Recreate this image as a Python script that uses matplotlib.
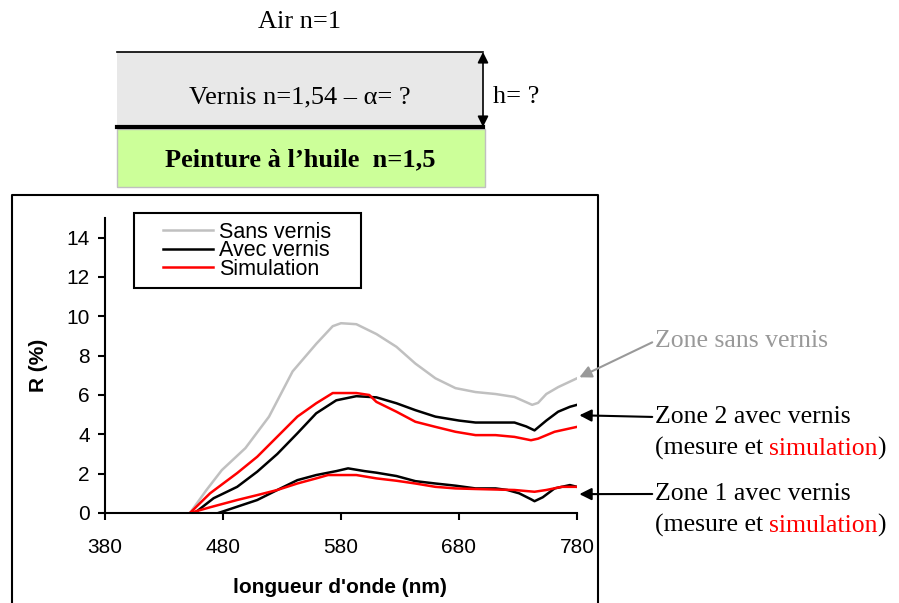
import numpy as np
import matplotlib.pyplot as plt
from matplotlib.patches import Rectangle

# reflectance spectra (wavelength in nm, R in %)
wl_sans = [452, 466, 479, 499, 519, 539, 559, 573, 580, 593, 610, 627, 643, 660,
           677, 694, 711, 727, 742, 747, 754, 764, 780]
r_sans = [0.0, 1.17, 2.18, 3.3, 4.9, 7.2, 8.6, 9.5, 9.65, 9.6, 9.1, 8.45, 7.6, 6.85,
          6.35, 6.15, 6.05, 5.9, 5.5, 5.6, 6.05, 6.4, 6.85]

wl_z2_mes = [456, 472, 492, 509, 526, 543, 559, 576, 593, 610, 627, 643, 660, 680,
             694, 727, 737, 744, 754, 764, 774, 780]
r_z2_mes = [0.0, 0.75, 1.33, 2.1, 3.0, 4.05, 5.07, 5.73, 5.94, 5.88, 5.58, 5.23, 4.9, 4.7,
            4.6, 4.6, 4.4, 4.2, 4.7, 5.15, 5.4, 5.5]

wl_z2_sim = [452, 469, 492, 509, 526, 543, 559, 573, 593, 604, 610, 627, 643, 660,
             677, 694, 711, 727, 741, 747, 761, 780]
r_z2_sim = [0.0, 1.0, 2.03, 2.86, 3.88, 4.9, 5.58, 6.1, 6.1, 6.0, 5.65, 5.15, 4.64, 4.38,
            4.13, 3.96, 3.96, 3.87, 3.7, 3.78, 4.13, 4.38]

wl_z1_mes = [476, 492, 509, 526, 543, 559, 576, 586, 600, 610, 627, 643, 660, 677,
             694, 711, 721, 731, 741, 744, 751, 761, 774, 780]
r_z1_mes = [0.0, 0.32, 0.66, 1.17, 1.67, 1.93, 2.13, 2.27, 2.13, 2.05, 1.88, 1.62, 1.5, 1.39,
            1.25, 1.25, 1.17, 1.0, 0.7, 0.6, 0.8, 1.25, 1.42, 1.33]

wl_z1_sim = [452, 469, 492, 509, 526, 543, 559, 569, 593, 610, 627, 643, 660, 677,
             694, 727, 744, 754, 767, 780]
r_z1_sim = [0.0, 0.29, 0.66, 0.91, 1.17, 1.5, 1.76, 1.93, 1.93, 1.76, 1.64, 1.5, 1.33, 1.25,
            1.22, 1.17, 1.08, 1.17, 1.33, 1.33]

x_ticks = [380, 480, 580, 680, 780]
y_ticks = [0, 2, 4, 6, 8, 10, 12, 14]

W, H = 899, 603
fig = plt.figure(figsize=(W / 100, H / 100), dpi=100)

# overlay in pixel coordinates for the sketch and the frame
ov = fig.add_axes([0, 0, 1, 1])
ov.set_xlim(0, W)
ov.set_ylim(H, 0)
ov.axis('off')

serif = 'Liberation Serif'
sans = 'Liberation Sans'
fs_sketch = 19
fs_note = 18.5

# layer diagram
ov.add_patch(Rectangle((117, 52), 366, 75, facecolor='#e8e8e8', edgecolor='none'))
ov.plot([117, 483], [52, 52], color='black', lw=1.2)
ov.add_patch(Rectangle((117, 129), 368, 58, facecolor='#ccff99', edgecolor='#c0c0c0', lw=1))
ov.plot([117, 483], [127, 127], color='black', lw=3)
ov.annotate('', xy=(483, 52), xytext=(483, 127),
            arrowprops=dict(arrowstyle='<|-|>', color='black', lw=1.2, mutation_scale=16,
                            shrinkA=0, shrinkB=0))
ov.text(299, 22, 'Air n=1', ha='center', va='center', family=serif, fontsize=fs_sketch)
ov.text(300, 97, 'Vernis n=1,54 – α= ?', ha='center', va='center', family=serif,
        fontsize=fs_sketch)
ov.text(493, 97, 'h= ?', ha='left', va='center', family=serif, fontsize=fs_sketch)
ov.text(300, 160, 'Peinture à l’huile  n=1,5', ha='center', va='center', family=serif,
        fontsize=fs_sketch, fontweight='bold')

# frame round the chart (bottom edge is cut off)
ov.plot([12, 12, 598, 598], [605, 195, 195, 605], color='black', lw=1.5)

# chart
ax = fig.add_axes([105 / W, (H - 513) / H, 472 / W, 295 / H])
ax.set_facecolor('none')
ax.plot(wl_sans, r_sans, color='#c0c0c0', lw=1.8, label='Sans vernis')
ax.plot(wl_z2_mes, r_z2_mes, color='black', lw=1.8, label='Avec vernis')
ax.plot(wl_z2_sim, r_z2_sim, color='red', lw=1.8, label='Simulation')
ax.plot(wl_z1_mes, r_z1_mes, color='black', lw=1.8)
ax.plot(wl_z1_sim, r_z1_sim, color='red', lw=1.8)

ax.set_xlim(380, 780)
ax.set_ylim(0, 15)
ax.set_xticks(x_ticks)
ax.set_yticks(y_ticks)
for s in ['top', 'right']:
    ax.spines[s].set_visible(False)
for s in ['left', 'bottom']:
    ax.spines[s].set_linewidth(1.5)
ax.tick_params(axis='both', direction='out', length=5, width=1.5, labelsize=15)
ax.tick_params(axis='x', pad=13)
ax.tick_params(axis='y', pad=6)
for lab in ax.get_xticklabels() + ax.get_yticklabels():
    lab.set_family(sans)

ax.set_xlabel("longueur d'onde (nm)", family=sans, fontsize=15, fontweight='bold')
ax.set_ylabel('R (%)', family=sans, fontsize=15, fontweight='bold')
ax.xaxis.set_label_coords(0.498, -0.22)
ax.yaxis.set_label_coords(-0.12, 0.5)

leg = ax.legend(loc='upper left', bbox_to_anchor=(163 / W, (H - 222) / H),
                bbox_transform=fig.transFigure, frameon=False,
                prop={'family': sans, 'size': 15.5}, handlelength=2.3, handletextpad=0.3,
                labelspacing=-0.12, borderpad=0, borderaxespad=0)
ov.add_patch(Rectangle((134, 213), 227, 75, facecolor='none', edgecolor='black', lw=1.5))

# annotations pointing at the curves
tx = 655
ax.annotate('Zone sans vernis', xy=(782, 6.9), xytext=(tx, 341), textcoords=ov.transData,
            ha='left', va='center', family=serif, fontsize=fs_note, color='#999999',
            annotation_clip=False,
            arrowprops=dict(arrowstyle='-|>', color='#999999', lw=1.5, mutation_scale=18,
                            relpos=(0, 0.5), shrinkA=0, shrinkB=0))

for label, yt, ry in [('Zone 2 avec vernis', 417, 4.97), ('Zone 1 avec vernis', 494, 0.96)]:
    ax.annotate(label, xy=(782, ry), xytext=(tx, yt), textcoords=ov.transData,
                ha='left', va='center', family=serif, fontsize=fs_note, color='black',
                annotation_clip=False,
                arrowprops=dict(arrowstyle='-|>', color='black', lw=1.5, mutation_scale=18,
                                relpos=(0, 0.5), shrinkA=0, shrinkB=0))
    t1 = ov.text(tx, yt + 31, '(mesure et', ha='left', va='center', family=serif,
                 fontsize=fs_note)
    t2 = ov.annotate('simulation', xy=(1, 0), xycoords=t1, xytext=(4, 0),
                     textcoords='offset points', ha='left', va='bottom', family=serif,
                     fontsize=fs_note, color='red')
    ov.annotate(')', xy=(1, 0), xycoords=t2, ha='left', va='bottom', family=serif,
                fontsize=fs_note)

fig.savefig('out.png', dpi=100)
